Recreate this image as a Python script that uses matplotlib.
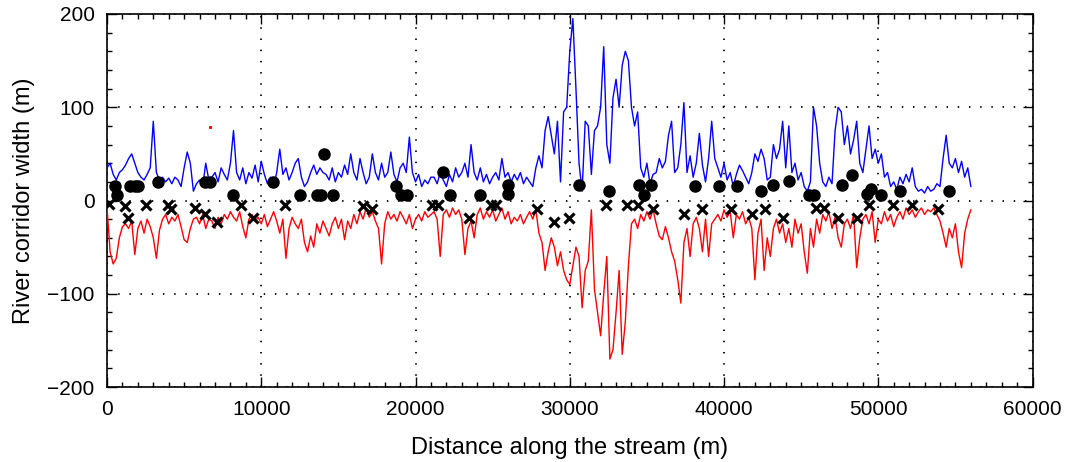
import numpy as np
import matplotlib
matplotlib.use("Agg")
import matplotlib.pyplot as plt
from matplotlib.ticker import MultipleLocator

plt.rcParams["font.family"] = ["Liberation Sans", "DejaVu Sans"]

# corridor half-widths sampled every 200 m along the stream (m)
station_spacing = 200
left_width = [
    35, 40, 28, 22, 30, 33, 38, 45, 50, 40, 30, 25, 22, 28, 35, 85, 30, 22, 25, 20,
    24, 18, 25, 22, 15, 35, 52, 40, 10, 18, 22, 15, 40, 22,
    25, 30, 20, 35, 28, 22, 40, 75, 30, 22, 35, 18, 30, 24, 38, 20, 42, 28, 18, 25,
    15, 30, 55, 28, 35, 22, 30, 40, 45, 25, 15, 20, 30, 38, 28, 35, 30,
    28, 22, 35, 20, 30, 25, 38, 28, 50, 30, 22, 45, 30, 18, 25, 50, 30, 22, 40, 25,
    30, 52, 28, 20, 35, 40, 30, 68, 30, 20, 28, 15, 22, 18, 25,
    25, 18, 30, 22, 15, 28, 20, 35, 25, 30, 40, 25, 60, 30, 22, 35, 20, 28, 18, 25,
    30, 22, 45, 25, 30, 20, 28, 22, 30, 18, 25, 20, 15, 35, 48,
    35, 75, 90, 70, 50, 85, 20, 95, 100, 160, 195, 120, 40, 10, 85, 80, 28, 75, 80, 100,
    165, 60, 40, 110, 130, 100, 145, 160, 150, 100, 80, 95, 35, 25, 40, 18, 28,
    30, 45, 35, 42, 70, 85, 30, 35, 60, 105, 30, 48, 25, 40, 72, 38, 20, 45, 85, 45,
    35, 25, 40, 22, 30, 15, 28, 38, 32, 25, 18, 30, 50, 42, 55,
    45, 22, 25, 60, 45, 55, 85, 35, 80, 30, 40, 22, 30, 15, 10, 20, 100, 80, 40, 20,
    15, 25, 18, 75, 100, 95, 60, 80, 50, 65, 85, 40, 30, 55, 80, 45,
    55, 40, 50, 25, 30, 15, 20, 12, 25, 18, 28, 20, 35, 15, 10, 12, 8, 15, 10, 12,
    18, 15, 45, 70, 40, 35, 45, 30, 42, 25, 35, 15,
]
right_width = [
    -8, -55, -68, -62, -40, -28, -25, -30, -22, -58, -30, -22, -35, -20, -28, -40, -62, -32, -20, -15,
    -25, -18, -22, -15, -28, -42, -45, -30, -20, -18, -25, -15, -30, -20,
    -22, -30, -18, -25, -15, -20, -12, -18, -22, -12, -28, -40, -20, -15, -22, -18, -25, -15, -28, -20,
    -12, -22, -35, -20, -62, -30, -18, -25, -30, -20, -45, -55, -38, -50, -25, -35, -22,
    -30, -38, -25, -18, -30, -20, -42, -22, -30, -15, -25, -12, -20, -8, -18, -12, -22, -30, -68, -25,
    -12, -20, -15, -22, -12, -18, -25, -15, -30, -20, -15, -22, -12, -18, -15,
    -12, -20, -60, -15, -10, -18, -8, -15, -10, -20, -58, -30, -22, -40, -15, -8, -20, -12, -18, -10,
    -22, -15, -8, -20, -12, -25, -18, -22, -15, -25, -18, -12, -20, -10, -35,
    -45, -75, -55, -40, -50, -70, -55, -75, -85, -90, -70, -50, -60, -115, -75, -65, -10, -95, -120, -145,
    -100, -60, -170, -160, -120, -75, -165, -130, -70, -25, -20, -30, -15, -22, -12, -20, -10,
    -25, -38, -42, -28, -40, -55, -65, -85, -110, -45, -30, -60, -25, -18, -30, -55, -20, -60, -25, -20,
    -15, -22, -10, -18, -12, -40, -15, -20, -12, -25, -18, -30, -85, -35, -20,
    -75, -40, -60, -30, -20, -35, -25, -45, -30, -50, -20, -35, -25, -55, -78, -30, -50, -20, -35, -15,
    -22, -12, -30, -18, -40, -50, -25, -20, -30, -15, -72, -40, -20, -15, -25, -12,
    -45, -20, -25, -12, -22, -15, -28, -18, -12, -20, -8, -15, -10, -18, -12, -8, -15, -10, -12, -8,
    -15, -22, -35, -50, -30, -40, -25, -55, -72, -35, -20, -10,
]

# field-measured widths (m): left bank (dots) and right bank (crosses)
left_obs_x = [500, 650, 1470, 1790, 2010, 3300, 6330, 6650, 8160, 10750, 12520, 13600, 13900,
              14050, 14640, 18740, 19070, 19430, 21770, 22240, 24180, 25980, 25980, 30570,
              32560, 34460, 34830, 35270, 38130, 39690, 40810, 42400, 43180, 44180, 45510,
              45840, 47670, 48280, 49290, 49510, 50160, 51390, 54580]
left_obs_y = [16, 6, 16, 16, 16, 20, 20, 20, 6, 20, 6, 6, 6,
              50, 6, 16, 6, 6, 31, 6, 6, 17, 7, 17,
              10, 17, 6, 17, 16, 16, 16, 10, 17, 21, 6,
              6, 17, 27, 7, 12, 6, 10, 10]
right_obs_x = [100, 1140, 1360, 2550, 3950, 4170, 5680, 6330, 7120, 8700, 9460, 11510,
               16580, 17190, 21050, 21440, 23490, 24900, 25220, 27850, 29000, 29970,
               32340, 33680, 34400, 35400, 37420, 38600, 40440, 41840, 42650, 43830,
               45950, 46490, 47390, 48640, 49420, 50950, 52160, 53900]
right_obs_y = [-4, -6, -19, -5, -5, -9, -8, -14, -23, -5, -19, -5,
               -6, -9, -5, -5, -19, -5, -5, -9, -23, -19,
               -5, -5, -5, -9, -14, -9, -9, -14, -9, -19,
               -8, -8, -19, -19, -5, -5, -5, -9]
stray_x = [6650]
stray_y = [79]

left_dist = np.arange(len(left_width)) * station_spacing
right_dist = np.arange(len(right_width)) * station_spacing

fig = plt.figure(figsize=(10.67, 4.62), dpi=100)
ax = fig.add_axes([0.1003, 0.1623, 0.8674, 0.8074])

ax.plot(left_dist, left_width, color="#0000ff", lw=1.0, zorder=3)
ax.plot(right_dist, right_width, color="#ff0000", lw=1.0, zorder=3)
ax.plot(stray_x, stray_y, ls="none", marker="s", ms=1.2, color="#ff0000", zorder=3)
ax.plot(left_obs_x, left_obs_y, ls="none", marker="o", ms=8, color="black", zorder=4)
ax.plot(right_obs_x, right_obs_y, ls="none", marker="x", ms=6.5, mew=2.3,
        color="black", zorder=4)

ax.set_xlim(0, 60000)
ax.set_ylim(-200, 200)
ax.xaxis.set_major_locator(MultipleLocator(10000))
ax.xaxis.set_minor_locator(MultipleLocator(1000))
ax.yaxis.set_major_locator(MultipleLocator(100))
ax.yaxis.set_minor_locator(MultipleLocator(20))
ax.tick_params(which="both", direction="in", top=True, right=True,
               labelsize=15, width=1.0, colors="black")
ax.tick_params(which="major", length=7, pad=9)
ax.tick_params(which="minor", length=3.5)
for s in ax.spines.values():
    s.set_linewidth(1.2)

ax.grid(True, which="major", color="black", lw=1.3, linestyle=(0, (0.8, 5.4)))
ax.set_axisbelow(True)

ax.set_xlabel("Distance along the stream (m)", fontsize=17, labelpad=13)
ax.set_ylabel("River corridor width (m)", fontsize=17, labelpad=9)

fig.savefig("out.png", dpi=100)
